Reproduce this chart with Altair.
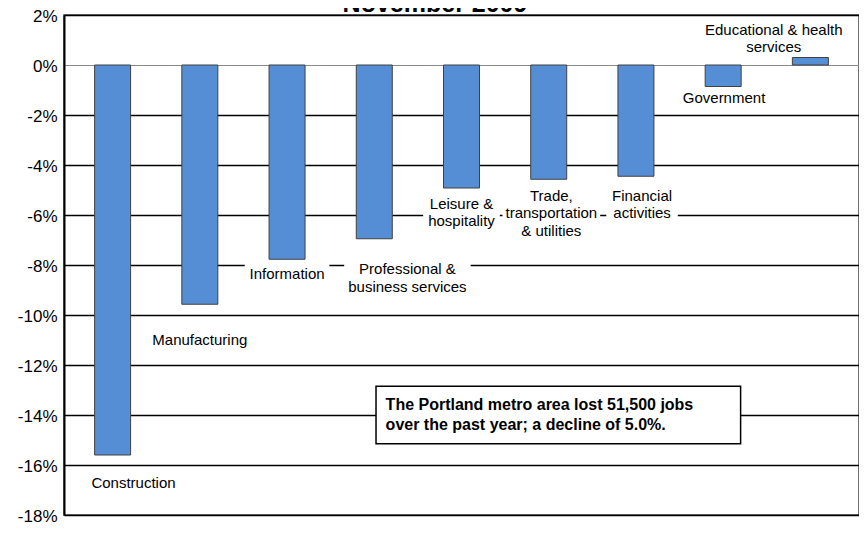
import altair as alt
import pandas as pd

categories = [
    "Construction", "Manufacturing", "Information",
    "Professional & business services", "Leisure & hospitality",
    "Trade, transportation & utilities", "Financial activities",
    "Government", "Educational & health services",
]
changes = [-15.6, -9.57, -7.77, -6.95, -4.92, -4.57, -4.45, -0.86, 0.3]

label_text = [
    "Construction", "Manufacturing", "Information",
    "Professional &\nbusiness services", "Leisure &\nhospitality",
    "Trade,\ntransportation\n& utilities", "Financial\nactivities",
    "Government", "Educational & health\nservices",
]
# value at which the first line of each label sits
label_y = [-16.71, -11.01, -8.35, -8.16, -5.54, -5.23, -5.23, -1.32, 1.41]
label_shift = [0.24, 0.0, 0.0, 0.38, 0.0, 0.03, 0.07, 0.01, -0.42]
# white box behind each label (width in category units, height in % units)
label_box_w = [1.08, 1.22, 0.97, 1.45, 0.88, 1.12, 0.82, 1.04, 1.68]
label_box_h = [0.87, 0.87, 0.87, 1.58, 1.58, 2.29, 1.58, 0.87, 1.58]

y_ticks = [-18, -16, -14, -12, -10, -8, -6, -4, -2, 0, 2]

note_lines = "The Portland metro area lost 51,500 jobs\nover the past year; a decline of 5.0%."
note_box = {"x1": 3.52, "x2": 7.70, "y1": -12.85, "y2": -15.15, "tx": 3.63, "ty": -13.6}
title_text = "November 2009"

FONT = "Liberation Sans"
LINE_H = 17.5
PLOT_H = 500
PX_PER_UNIT_Y = PLOT_H / 20.0

bars_df = pd.DataFrame({
    "category": categories,
    "idx": [i + 0.5 for i in range(len(categories))],
    "change": changes,
})
labels_df = pd.DataFrame({
    "label": label_text,
    "lx": [i + 0.5 + s for i, s in enumerate(label_shift)],
    "ly": label_y,
    "bw": label_box_w,
    "bh": label_box_h,
})
note_df = pd.DataFrame([dict(note_box, text=note_lines)])

xscale = alt.Scale(domain=[0, 9], nice=False, zero=False)
yscale = alt.Scale(domain=[-18, 2], nice=False, zero=False)

y_axis = alt.Axis(
    values=y_ticks, labelExpr="datum.value + '%'", title=None,
    grid=True,
    gridColor={"condition": {"test": "datum.value === 0", "value": "#8a8a8a"}, "value": "black"},
    gridWidth={"condition": {"test": "datum.value === 0", "value": 1}, "value": 1.4},
    ticks=False, domain=True, domainColor="black", domainWidth=2,
    labelFontSize=17, labelColor="black", labelPadding=7, labelFont=FONT,
    labelOffset=1,
)

half_line = LINE_H / 2 / PX_PER_UNIT_Y
label_boxes = alt.Chart(labels_df).transform_calculate(
    nl="length(split(datum.label, '\\n'))",
).transform_calculate(
    cy=f"datum.ly - (datum.nl - 1) * {half_line}",
).transform_calculate(
    bx1="datum.lx - datum.bw / 2", bx2="datum.lx + datum.bw / 2",
    by1="datum.cy - datum.bh / 2", by2="datum.cy + datum.bh / 2",
).mark_rect(fill="white").encode(
    x=alt.X("bx1:Q", scale=xscale, axis=None),
    x2="bx2:Q",
    y=alt.Y("by1:Q", scale=yscale, axis=y_axis),
    y2="by2:Q",
)

bars = alt.Chart(bars_df).mark_bar(
    size=36, color="#558ED5", stroke="#404040", strokeWidth=1
).encode(
    x=alt.X("idx:Q", scale=xscale, axis=None),
    y=alt.Y("change:Q", scale=yscale, axis=y_axis),
    y2=alt.datum(0),
)

labels = alt.Chart(labels_df).mark_text(
    font=FONT, fontSize=15, lineHeight=LINE_H, lineBreak="\n",
    color="black", align="center", baseline="middle",
).encode(
    x=alt.X("lx:Q", scale=xscale, axis=None),
    y=alt.Y("ly:Q", scale=yscale, axis=y_axis),
    text="label:N",
)

box = alt.Chart(note_df).mark_rect(
    fill="white", stroke="black", strokeWidth=1.5
).encode(
    x=alt.X("x1:Q", scale=xscale, axis=None),
    x2="x2:Q",
    y=alt.Y("y1:Q", scale=yscale, axis=y_axis),
    y2="y2:Q",
)

note = alt.Chart(note_df).mark_text(
    font=FONT, fontSize=16, fontWeight="bold", lineHeight=20, lineBreak="\n",
    color="black", align="left", baseline="middle",
).encode(
    x=alt.X("tx:Q", scale=xscale, axis=None),
    y=alt.Y("ty:Q", scale=yscale, axis=y_axis),
    text="text:N",
)

title = alt.Chart(pd.DataFrame({"t": [title_text]})).mark_text(
    font=FONT, fontSize=25, fontWeight="bold", color="black",
    align="center", baseline="alphabetic",
).encode(
    x=alt.value(371), y=alt.value(-3), text="t:N",
)

chart = alt.layer(label_boxes, bars, labels, box, note, title).properties(
    width=795, height=PLOT_H,
    autosize=alt.AutoSizeParams(type="none"),
    padding={"left": 56, "top": 7, "right": 0, "bottom": 11},
).configure(
    font=FONT, background="white"
).configure_view(
    stroke="#404040", strokeWidth=1.5
)

chart.save("out.html", embed_options={"renderer": "svg", "actions": False})
